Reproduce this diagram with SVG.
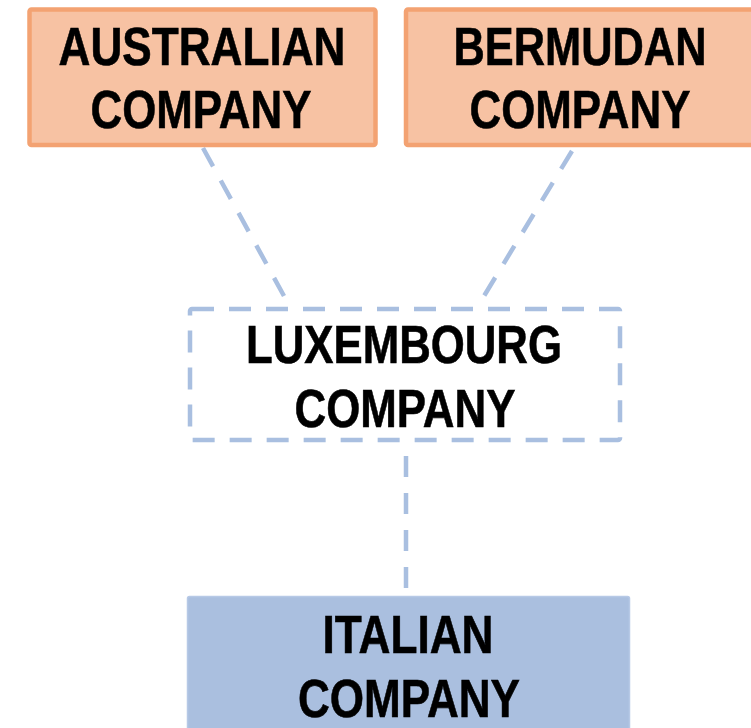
<svg xmlns="http://www.w3.org/2000/svg" width="751" height="728" viewBox="0 0 751 728">
  <style>
    .label { font-family: "Liberation Sans", Arial, sans-serif; font-weight: bold; font-size: 54px; fill: #000; stroke: #000; stroke-width: 0.6; text-anchor: middle; }
    .offshore { fill: #F7C2A3; stroke: #F3A272; stroke-width: 4.5; }
    .holding { fill: #FFFFFF; stroke: #A9BFE0; stroke-width: 4.5; stroke-dasharray: 22 15; }
    .parent { fill: #AABFDF; stroke: #B7C9E6; stroke-width: 1.5; }
    .link { fill: none; stroke: #A9BFE0; stroke-width: 4.5; stroke-dasharray: 21 16; }
  </style>
  <rect width="751" height="728" fill="#FFFFFF"/>

  <!-- dashed ownership links -->
  <g id="connectors">
    <line class="link" x1="203" y1="148" x2="284" y2="296"/>
    <line class="link" x1="572" y1="151" x2="484" y2="296"/>
    <line class="link" x1="406" y1="456" x2="406" y2="588"/>
  </g>

  <g id="australian">
    <rect class="offshore" x="29.5" y="9.5" width="346" height="135.5" rx="2"/>
    <text class="label" x="202" y="65" textLength="287" lengthAdjust="spacingAndGlyphs">AUSTRALIAN</text>
    <text class="label" x="201" y="128" textLength="221" lengthAdjust="spacingAndGlyphs">COMPANY</text>
  </g>

  <g id="bermudan">
    <rect class="offshore" x="406" y="9.5" width="349" height="135.5" rx="2"/>
    <text class="label" x="580" y="65" textLength="253" lengthAdjust="spacingAndGlyphs">BERMUDAN</text>
    <text class="label" x="580" y="128" textLength="221" lengthAdjust="spacingAndGlyphs">COMPANY</text>
  </g>

  <g id="luxembourg">
    <rect class="holding" x="190" y="309" width="430" height="131" rx="2"/>
    <text class="label" x="404" y="363" textLength="316" lengthAdjust="spacingAndGlyphs">LUXEMBOURG</text>
    <text class="label" x="405" y="427" textLength="221" lengthAdjust="spacingAndGlyphs">COMPANY</text>
  </g>

  <g id="italian">
    <rect class="parent" x="187.5" y="596.5" width="442" height="150" rx="2"/>
    <text class="label" x="408" y="653" textLength="171" lengthAdjust="spacingAndGlyphs">ITALIAN</text>
    <text class="label" x="409" y="717" textLength="222" lengthAdjust="spacingAndGlyphs">COMPANY</text>
  </g>
</svg>
